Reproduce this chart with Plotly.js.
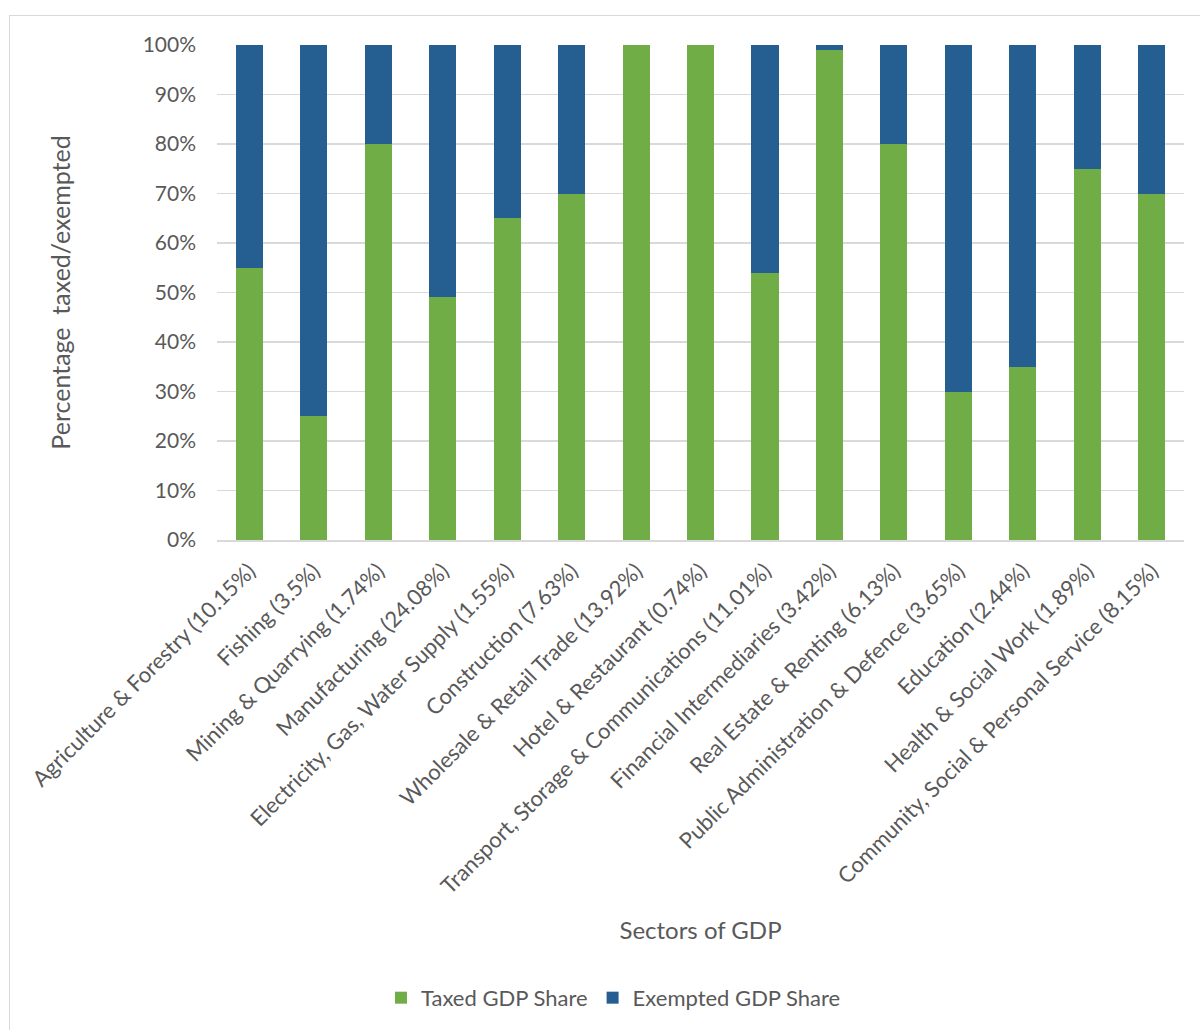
<!DOCTYPE html>
<html>
<head>
<meta charset="utf-8">
<script src="https://cdn.plot.ly/plotly-3.0.1.min.js"></script>
<style>
  html, body { margin: 0; padding: 0; background: #fff; }
  #wrap { position: relative; width: 1200px; height: 1030px; overflow: hidden; }
  #frame { position: absolute; left: 9px; top: 15px; width: 1220px; height: 1040px; border: 1.5px solid #d9d9d9; box-sizing: border-box; pointer-events: none; }
  #chart { position: absolute; left: 0; top: 0; width: 1200px; height: 1030px; }
</style>
</head>
<body>
<div id="wrap">
  <div id="chart"></div>
  <div id="frame"></div>
</div>
<script>
const sectors = [
  "Agriculture & Forestry (10.15%)",
  "Fishing (3.5%)",
  "Mining & Quarrying (1.74%)",
  "Manufacturing (24.08%)",
  "Electricity, Gas, Water Supply (1.55%)",
  "Construction (7.63%)",
  "Wholesale & Retail Trade (13.92%)",
  "Hotel & Restaurant (0.74%)",
  "Transport, Storage & Communications (11.01%)",
  "Financial Intermediaries (3.42%)",
  "Real Estate & Renting (6.13%)",
  "Public Administration & Defence (3.65%)",
  "Education (2.44%)",
  "Health & Social Work (1.89%)",
  "Community, Social & Personal Service (8.15%)"
];
const taxedShare    = [0.55, 0.25, 0.80, 0.49, 0.65, 0.70, 1.00, 1.00, 0.54, 0.99, 0.80, 0.30, 0.35, 0.75, 0.70];
const exemptedShare = [0.45, 0.75, 0.20, 0.51, 0.35, 0.30, 0.00, 0.00, 0.46, 0.01, 0.20, 0.70, 0.65, 0.25, 0.30];
const seriesNames = ["Taxed GDP Share", "Exempted GDP Share"];

const FONT = "Lato, 'Open Sans', sans-serif";
const TXT = "#595959";

const traces = [
  { type: "bar", name: seriesNames[0], x: sectors, y: taxedShare,
    marker: { color: "#70ad47", line: { width: 0 } } },
  { type: "bar", name: seriesNames[1], x: sectors, y: exemptedShare,
    marker: { color: "#255e91", line: { width: 0 } } }
];

const layout = {
  width: 1200, height: 1030,
  paper_bgcolor: "#ffffff", plot_bgcolor: "#ffffff",
  barmode: "stack", bargap: 0.58,
  margin: { l: 217, r: 16, t: 45, b: 487, pad: 0 },
  font: { family: FONT, color: TXT, size: 21 },
  showlegend: true,
  legend: { orientation: "h", x: 0.41, xanchor: "center", y: -0.925, yanchor: "middle",
            font: { family: FONT, size: 22, color: TXT }, traceorder: "normal",
            itemwidth: 30, tracegroupgap: 0 },
  xaxis: {
    type: "category", tickangle: -45, showgrid: false,
    showline: true, linecolor: "#d9d9d9", linewidth: 1.5,
    ticks: "", ticklabelstandoff: 8,
    tickfont: { family: FONT, size: 22, color: TXT },
    automargin: false,
    title: { text: "Sectors of GDP", font: { family: FONT, size: 24, color: TXT }, standoff: 24 }
  },
  yaxis: {
    range: [0, 1], dtick: 0.1, tick0: 0, tickformat: ".0%",
    showgrid: true, gridcolor: "#d9d9d9", gridwidth: 1.5,
    zeroline: false, showline: false, ticks: "",
    ticklabelstandoff: 20,
    tickfont: { family: FONT, size: 21, color: TXT },
    automargin: false,
    title: { text: "Percentage  taxed/exempted", font: { family: FONT, size: 25, color: TXT }, standoff: 64 }
  }
};

Plotly.newPlot("chart", traces, layout, { displayModeBar: false, staticPlot: true });
</script>
</body>
</html>
